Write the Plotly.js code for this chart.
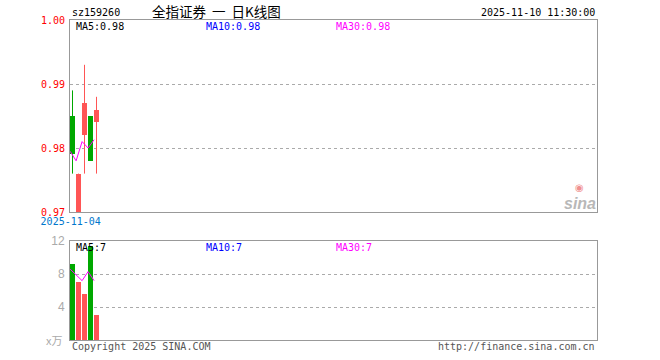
<!DOCTYPE html>
<html>
<head>
<meta charset="utf-8">
<script src="https://cdn.plot.ly/plotly-3.0.1.min.js"></script>
<style>html,body{margin:0;padding:0;background:#fff;}#chart{width:660px;height:360px;}</style>
</head>
<body>
<div id="chart"></div>
<script>
// ---- data ----
const dates  = ['2025-11-04', '2025-11-05', '2025-11-06', '2025-11-07', '2025-11-10'];
const open   = [0.985, 0.970, 0.982, 0.985, 0.984];
const close  = [0.979, 0.976, 0.987, 0.978, 0.986];
const high   = [0.989, 0.976, 0.993, 0.985, 0.988];
const low    = [0.976, 0.970, 0.976, 0.978, 0.976];
const ma5    = [0.9795, 0.978, 0.981, 0.980, 0.9813];
const volume = [9.2, 7.05, 5.6, 11.4, 3.06];
const volMa5 = [8.6, 7.9, 7.2, 8.3, 7.2];
const priceTicks = [0.97, 0.98, 0.99, 1.00];
const volTicks = [4, 8, 12];
const code = 'sz159260';
const titleText = '全指证券&nbsp;&nbsp;一&nbsp;&nbsp;日K线图';
const timeText = '2025-11-10 11:30:00';

// ---- styling ----
const GREEN = '#00a800', RED = '#ff5555', MAG = '#ff00ff', BLUE = '#0000ff', GRAY = '#999999';
const MONO = '"DejaVu Sans Mono", "Liberation Mono", monospace';

const idx = dates.map((d, i) => i);
const isUp = idx.map(i => close[i] >= open[i]);
const colors = idx.map(i => isUp[i] ? RED : GREEN);

// wick traces
function wicks(up) {
  const x = [], y = [];
  idx.forEach(i => { if (isUp[i] === up) { x.push(i, i, null); y.push(low[i], high[i], null); } });
  return {type: 'scatter', mode: 'lines', x, y, xaxis: 'x', yaxis: 'y',
          line: {color: up ? RED : GREEN, width: 1}, hoverinfo: 'skip', showlegend: false};
}
const bodies = {
  type: 'bar', x: idx, base: idx.map(i => Math.min(open[i], close[i])),
  y: idx.map(i => Math.max(Math.abs(close[i] - open[i]), 0.0002)),
  width: 0.83, marker: {color: colors, line: {width: 0}}, xaxis: 'x', yaxis: 'y', showlegend: false
};
const maLine = {type: 'scatter', mode: 'lines', x: idx.map(i => i - 0.4), y: ma5,
  line: {color: MAG, width: 1}, xaxis: 'x', yaxis: 'y', showlegend: false};
const volBars = {type: 'bar', x: idx, y: volume, width: 0.83,
  marker: {color: colors, line: {width: 0}}, xaxis: 'x2', yaxis: 'y2', showlegend: false};
const volMaLine = {type: 'scatter', mode: 'lines', x: idx.map(i => i - 0.4), y: volMa5,
  line: {color: MAG, width: 1}, xaxis: 'x2', yaxis: 'y2', showlegend: false};

// pixel -> paper helpers (plot area 70..597 x, 20..340 y)
const L = 70, R = 597, T = 20, B = 340;
const px = v => (v - L) / (R - L);
const py = v => (B - v) / (B - T);
function ann(text, x, y, color, size, xanchor, font, extra) {
  return Object.assign({text, x: px(x), y: py(y), xref: 'paper', yref: 'paper', showarrow: false,
    xanchor: xanchor || 'left', yanchor: 'middle', font: {family: font || MONO, size: size || 10, color}}, extra || {});
}

const xRange = [-0.4167, 87.4167];
const layout = {
  width: 660, height: 360, margin: {l: L, r: 660 - R, t: T, b: 360 - B},
  paper_bgcolor: '#fff', plot_bgcolor: '#fff', bargap: 0, showlegend: false,
  xaxis: {domain: [0, 1], anchor: 'y', range: xRange, showline: true, mirror: true, linecolor: GRAY, linewidth: 1,
    showgrid: false, zeroline: false, tickvals: [idx[0] - 0.3], ticktext: [dates[0]], ticks: '',
    tickfont: {family: MONO, size: 10, color: '#0077cc'}},
  yaxis: {domain: [0.4, 1], range: [priceTicks[0], priceTicks[priceTicks.length - 1]], showline: true, mirror: true,
    linecolor: GRAY, linewidth: 1, showgrid: true, gridcolor: '#aaaaaa', griddash: 'dot', gridwidth: 1, zeroline: false,
    tickvals: priceTicks, ticktext: priceTicks.map(v => v.toFixed(2)), ticks: '', ticklabelstandoff: 2,
    tickfont: {family: MONO, size: 10, color: '#ff0000'}},
  xaxis2: {domain: [0, 1], anchor: 'y2', range: xRange, showline: true, mirror: true, linecolor: GRAY, linewidth: 1,
    showgrid: false, zeroline: false, showticklabels: false, ticks: ''},
  yaxis2: {domain: [0, 0.309], range: [0, 12], showline: true, mirror: true, linecolor: GRAY, linewidth: 1,
    showgrid: true, gridcolor: '#aaaaaa', griddash: 'dot', zeroline: false,
    tickvals: volTicks, ticktext: volTicks.map(String), ticks: '', ticklabelstandoff: 2,
    tickfont: {family: '"Liberation Sans", Arial, sans-serif', size: 12, color: '#aaaaaa'}},
  annotations: [
    ann(code, 70, 12, '#000'),
    ann(titleText, 150, 11, '#000', 13.5, 'left', '"Noto Sans CJK SC", sans-serif'),
    ann(timeText, 597, 12, '#000', 10, 'right'),
    ann('MA5:0.98', 74, 27, '#000'),
    ann('MA10:0.98', 204, 27, BLUE),
    ann('MA30:0.98', 334, 27, MAG),
    ann('MA5:7', 74, 247, '#000'),
    ann('MA10:7', 204, 247, BLUE),
    ann('MA30:7', 334, 247, MAG),
    ann('x万', 64, 340, '#aaaaaa', 11, 'right', '"Noto Sans CJK SC", sans-serif'),
    ann('Copyright 2025 SINA.COM', 70, 346, '#555'),
    ann('http://finance.sina.com.cn', 597, 346, '#555', 10, 'right'),
    ann('<b><i>sina</i></b>', 598, 203, '#b8b8b8', 16, 'right', '"Liberation Sans", Arial, sans-serif'),
    ann('◉', 579, 187, '#f09090', 10, 'center', '"DejaVu Sans", sans-serif')
  ]
};

Plotly.newPlot('chart', [bodies, wicks(true), wicks(false), maLine, volBars, volMaLine], layout,
  {staticPlot: true, displayModeBar: false});
</script>
</body>
</html>
